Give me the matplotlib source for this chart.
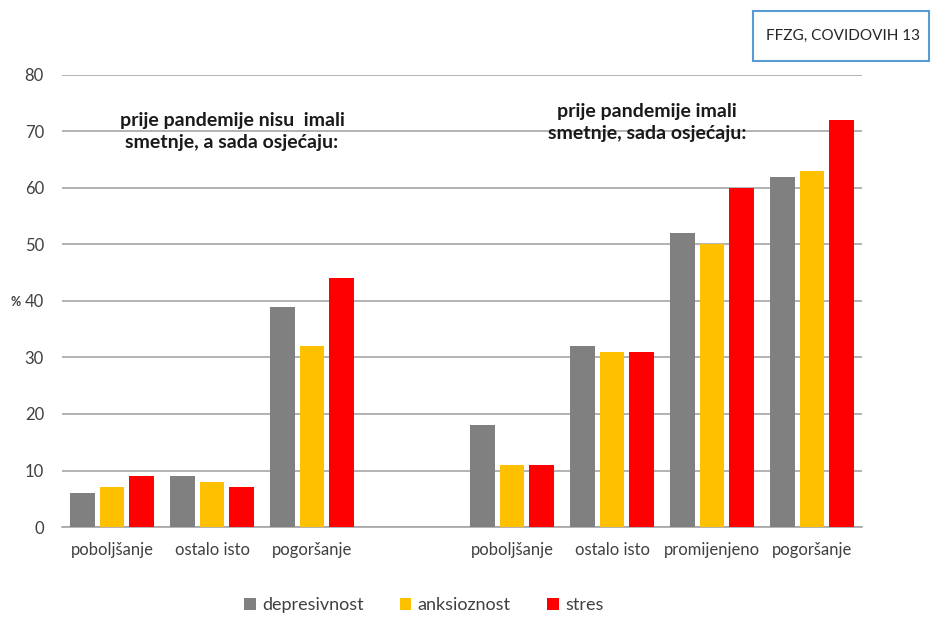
import numpy as np
import matplotlib
matplotlib.use("Agg")
import matplotlib.pyplot as plt
from matplotlib.patches import Rectangle

plt.rcParams["font.family"] = ["Lato", "DejaVu Sans"]

# ---------------------------------------------------------------------------
# Data
# ---------------------------------------------------------------------------
categories = ["poboljšanje", "ostalo isto", "pogoršanje", "",
              "poboljšanje", "ostalo isto", "promijenjeno", "pogoršanje"]
depresivnost = [6, 9, 39, np.nan, 18, 32, 52, 62]
anksioznost = [7, 8, 32, np.nan, 11, 31, 50, 63]
stres = [9, 7, 44, np.nan, 11, 31, 60, 72]
series_names = ["depresivnost", "anksioznost", "stres"]
colors = ["#808080", "#FFC000", "#FF0000"]

# ---------------------------------------------------------------------------
# Plot
# ---------------------------------------------------------------------------
fig = plt.figure(figsize=(9.31, 6.19), dpi=100)
ax = fig.add_axes([0.0666, 0.1486, 0.8594, 0.7304])

x = np.arange(len(categories))
width = 0.245
offset = 0.295
for i, (vals, name, col) in enumerate(zip([depresivnost, anksioznost, stres], series_names, colors)):
    ax.bar(x + (i - 1) * offset, vals, width=width, color=col, label=name, zorder=3)

ax.set_xlim(-0.5, len(categories) - 0.5)
ax.set_ylim(0, 80)
ax.set_yticks(range(0, 81, 10))
ax.set_xticks(x)
ax.set_xticklabels(categories, fontsize=12, color="#404040")
ax.tick_params(axis="y", labelsize=12, colors="#404040", length=0, pad=13)
ax.tick_params(axis="x", length=0, pad=11)
ax.grid(axis="y", color="#a6a6a6", linewidth=1.2, zorder=0)
for s in ["top", "right", "left"]:
    ax.spines[s].set_visible(False)
ax.spines["bottom"].set_color("#a6a6a6")
ax.spines["bottom"].set_linewidth(1.2)

fig.text(16 / 931, 1 - 302 / 619, "%", fontsize=9, fontweight="bold",
         color="#404040", ha="center", va="center")

# group annotations
ax.text(1.2, 70.0, "prije pandemije nisu  imali\nsmetnje, a sada osjećaju:",
        ha="center", va="center", fontsize=14, fontweight="bold",
        color="#1a1a1a", linespacing=1.3)
ax.text(5.35, 71.6, "prije pandemije imali\nsmetnje, sada osjećaju:",
        ha="center", va="center", fontsize=14, fontweight="bold",
        color="#1a1a1a", linespacing=1.4)

# legend
leg = fig.legend(loc="center", bbox_to_anchor=(0.455, 1 - 605 / 619), ncol=3,
                 frameon=False, fontsize=13, handlelength=0.65, handleheight=0.65,
                 handletextpad=0.35, columnspacing=2.0)
for t in leg.get_texts():
    t.set_color("#404040")

# source box
fig.patches.append(Rectangle((753 / 931, 1 - 61 / 619), 176 / 931, 50 / 619,
                             transform=fig.transFigure, facecolor="white",
                             edgecolor="#5b9bd5", linewidth=1.5))
fig.text(843 / 931, 1 - 36 / 619, "FFZG, COVIDOVIH 13", fontsize=11,
         color="#262626", ha="center", va="center")

fig.savefig("out.png", dpi=100)
